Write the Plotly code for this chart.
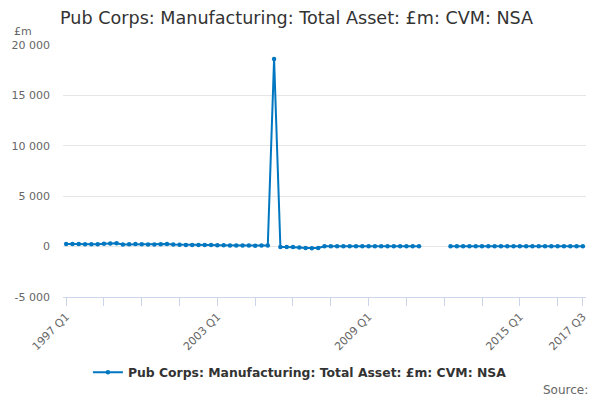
import plotly.graph_objects as go

# quarters 1997 Q1 .. 2017 Q3
quarters = [f"{y} Q{q}" for y in range(1997, 2018) for q in range(1, 5)][:83]

values = [
    260, 250, 250, 240, 240, 230, 280, 300, 330, 220,
    230, 250, 230, 220, 220, 230, 260, 200, 180, 170,
    170, 160, 150, 150, 140, 130, 120, 110, 110, 100,
    90, 100, 110, 18600, -50, -50, -30, -80, -150, -160,
    -140, 30, 40, 40, 40, 40, 40, 40, 40, 40,
    40, 40, 40, 40, 40, 40, 40, None, None, None,
    None, 30, 30, 30, 30, 30, 30, 30, 30, 30,
    30, 30, 30, 30, 30, 30, 30, 30, 30, 30,
    30, 30, 30,
]

series_name = "Pub Corps: Manufacturing: Total Asset: £m: CVM: NSA"
labelled = ["1997 Q1", "2003 Q1", "2009 Q1", "2015 Q1", "2017 Q3"]
y_ticks = [-5000, 0, 5000, 10000, 15000, 20000]

tick_vals = quarters[::6] + [quarters[-1]]
tick_text = [q if q in labelled else "" for q in tick_vals]
y_text = [f"{v:,}".replace(",", " ") for v in y_ticks]

fig = go.Figure(
    go.Scatter(
        x=quarters,
        y=values,
        mode="lines+markers",
        name=series_name,
        line=dict(color="#0077c0", width=2),
        marker=dict(size=4.5, color="#0077c0"),
        connectgaps=False,
    )
)

fig.update_layout(
    width=600,
    height=400,
    margin=dict(l=63, r=14, t=45, b=103),
    paper_bgcolor="white",
    plot_bgcolor="white",
    font=dict(family="DejaVu Sans", color="#666666", size=11),
    title=dict(
        text=series_name,
        x=0.1, xanchor="left", y=0.955, yanchor="middle",
        font=dict(size=17.6, color="#333333"),
    ),
    showlegend=True,
    legend=dict(
        orientation="h", x=0.453, xanchor="center", y=-0.30, yanchor="middle",
        font=dict(size=12.4, color="#333333", weight="bold"),
    ),
    annotations=[
        dict(text="£m", x=-0.0975, y=1.052, xref="paper", yref="paper",
             showarrow=False, xanchor="left", yanchor="middle",
             font=dict(size=11, color="#666666")),
        dict(text="Source:", x=1.0076, y=-0.369, xref="paper", yref="paper",
             showarrow=False, xanchor="right", yanchor="middle",
             font=dict(size=12, color="#666666")),
    ],
)

fig.update_xaxes(
    type="category",
    range=[-0.5, 82.5],
    tickmode="array",
    tickvals=tick_vals,
    ticktext=tick_text,
    tickangle=-45,
    ticks="outside",
    ticklen=8,
    tickcolor="#ccd6eb",
    showline=True,
    linecolor="#ccd6eb",
    showgrid=False,
    zeroline=False,
    automargin=False,
)
fig.update_yaxes(
    range=[-5000, 20000],
    tickmode="array",
    tickvals=y_ticks,
    ticktext=y_text,
    showgrid=True,
    gridcolor="#e6e6e6",
    zeroline=False,
    ticks="",
    ticklabelstandoff=12,
    automargin=False,
)

# the page body has a default 8px margin; remove it so the figure sits at 0,0
fig.write_html(
    "out.html",
    config={"displayModeBar": False},
    post_script="document.body.style.margin='0';",
)
